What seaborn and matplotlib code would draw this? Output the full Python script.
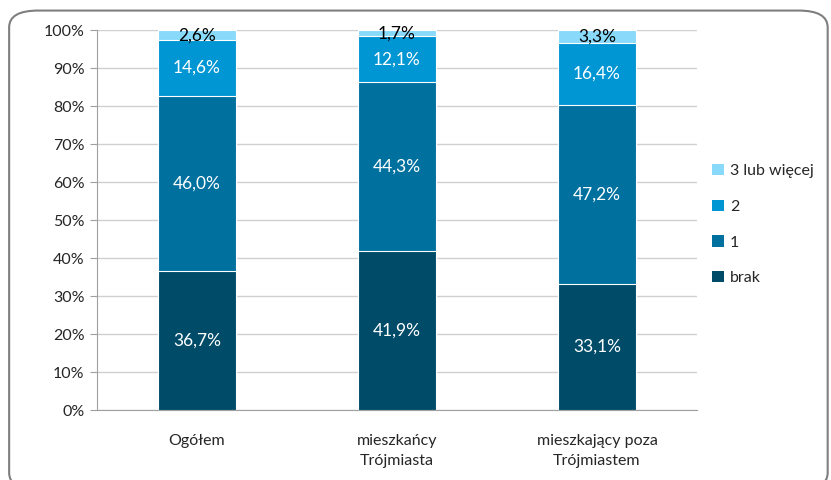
import matplotlib
matplotlib.use("Agg")
import matplotlib.pyplot as plt
from matplotlib.patches import Patch, FancyBboxPatch
import numpy as np
import pandas as pd
import seaborn as sns

categories = ["Ogółem", "mieszkańcy\nTrójmiasta", "mieszkający poza\nTrójmiastem"]
series_names = ["brak", "1", "2", "3 lub więcej"]
brak = [36.7, 41.9, 33.1]
jeden = [46.0, 44.3, 47.2]
dwa = [14.6, 12.1, 16.4]
trzy = [2.6, 1.7, 3.3]
colors = ["#004B68", "#00709F", "#0095D3", "#89D9FA"]
label_colors = ["white", "white", "white", "black"]

sns.set_style("white")
plt.rcParams["font.family"] = ["Lato", "DejaVu Sans"]

values = np.array([brak, jeden, dwa, trzy])
cum = np.cumsum(values, axis=0)

fig = plt.figure(figsize=(8.31, 4.8), dpi=100)
ax = fig.add_axes([0.1167, 0.1458, 0.722, 0.7917])

# stacked bars: tallest cumulative first, then smaller ones on top
for i in range(3, -1, -1):
    df = pd.DataFrame({"cat": categories, "val": cum[i]})
    sns.barplot(data=df, x="cat", y="val", color=colors[i], width=0.39,
                edgecolor="white", linewidth=0.8, saturation=1, ax=ax, zorder=3)

for j in range(3):
    for i in range(4):
        mid = cum[i][j] - values[i][j] / 2
        txt = f"{values[i][j]:.1f}%".replace(".", ",")
        ax.text(j, mid, txt, ha="center", va="center", color=label_colors[i],
                fontsize=12.5, zorder=5)

ax.set_ylim(0, 100)
ax.set_xlim(-0.5, 2.5)
ax.set_yticks(np.arange(0, 101, 10))
ax.set_yticklabels([f"{v}%" for v in range(0, 101, 10)], fontsize=11.5)
ax.set_xticks(range(3))
ax.set_xticklabels(categories, fontsize=11.5, linespacing=1.6)
ax.set_xticks([-0.5, 0.5, 1.5, 2.5], minor=True)
ax.tick_params(axis="x", which="major", length=0, pad=17)
ax.tick_params(axis="x", which="minor", length=5, color="#A0A0A0", direction="out")
ax.tick_params(axis="y", length=5, color="#A0A0A0", direction="out", left=True, pad=4)
ax.set_xlabel("")
ax.set_ylabel("")
ax.yaxis.grid(True, color="#D0D0D0", linewidth=1, zorder=0)
ax.set_axisbelow(True)
for s in ["top", "right"]:
    ax.spines[s].set_visible(False)
ax.spines["left"].set_color("#A0A0A0")
ax.spines["bottom"].set_color("#A0A0A0")

handles = [Patch(facecolor=colors[i], edgecolor="none", label=series_names[i])
           for i in range(3, -1, -1)]
fig.legend(handles=handles, loc="center left", bbox_to_anchor=(0.84, 0.532),
           frameon=False, fontsize=11.5, handlelength=0.7, handleheight=0.7,
           handletextpad=0.4, labelspacing=1.35)

frame = FancyBboxPatch((0.011, -0.02), 0.985, 0.998,
                       boxstyle="round,pad=0,rounding_size=0.035",
                       transform=fig.transFigure, facecolor="none",
                       edgecolor="#7F7F7F", linewidth=1.5)
fig.patches.append(frame)

fig.savefig("out.png", dpi=100)
